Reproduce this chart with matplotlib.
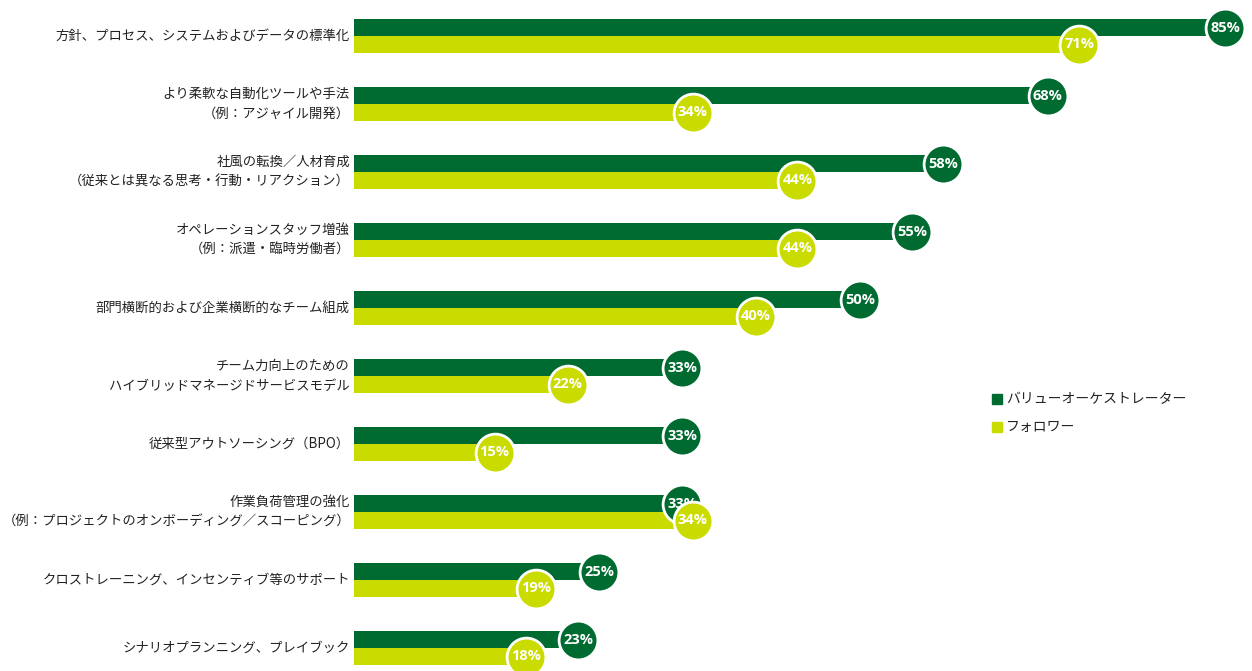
import matplotlib.pyplot as plt
import matplotlib.transforms as mtransforms
import numpy as np

plt.rcParams['font.family'] = ['Noto Sans CJK JP', 'DejaVu Sans']

categories = [
    "方針、プロセス、システムおよびデータの標準化",
    "より柔軟な自動化ツールや手法\n（例：アジャイル開発）",
    "社風の転換／人材育成\n（従来とは異なる思考・行動・リアクション）",
    "オペレーションスタッフ増強\n（例：派遣・臨時労働者）",
    "部門横断的および企業横断的なチーム組成",
    "チーム力向上のための\nハイブリッドマネージドサービスモデル",
    "従来型アウトソーシング（BPO）",
    "作業負荷管理の強化\n（例：プロジェクトのオンボーディング／スコーピング）",
    "クロストレーニング、インセンティブ等のサポート",
    "シナリオプランニング、プレイブック",
]
orchestrators = [85, 68, 58, 55, 50, 33, 33, 33, 25, 23]
followers = [71, 34, 44, 44, 40, 22, 15, 34, 19, 18]
series_names = ["バリューオーケストレーター", "フォロワー"]

GREEN = "#006B30"
LIME = "#CADB00"
TEXT = "#222222"

fig = plt.figure(figsize=(12.52, 6.71), dpi=100)
ax = fig.add_axes([354 / 1252, 0, 898 / 1252, 1])

y = np.arange(len(categories))
h = 0.25
ax.barh(y - h / 2, orchestrators, height=h, color=GREEN, zorder=2)
ax.barh(y + h / 2, followers, height=h, color=LIME, zorder=2)

ax.set_xlim(3.26, 3.26 + 898 / 10.44)
ax.set_ylim(9 + 23 / 68, -36 / 68)
ax.axis("off")

# value bubbles sit just past the end of each bar
shift = ax.transData + mtransforms.ScaledTranslation(0.18, 0, fig.dpi_scale_trans)
for vals, yy, col, z in [(orchestrators, y - h / 2, GREEN, 4), (followers, y + h / 2, LIME, 6)]:
    ax.scatter(vals, yy, s=780, color=col, edgecolors="white", linewidths=2,
               transform=shift, zorder=z, clip_on=False)
    for v, yv in zip(vals, yy):
        ax.annotate(f"{v}%", (v, yv), xytext=(18, 0), textcoords="offset pixels",
                    ha="center", va="center", color="white", fontsize=10.5,
                    fontweight="bold", family=["Open Sans", "DejaVu Sans"],
                    zorder=z + 1, annotation_clip=False)

for yi, label in zip(y, categories):
    ax.annotate(label, (3.26, yi), xytext=(-4, 0), textcoords="offset pixels",
                ha="right", va="center", fontsize=9.6, color=TEXT,
                linespacing=1.5, annotation_clip=False)

# legend drawn as square markers with text
for ly, name, col in [(399, series_names[0], GREEN), (427, series_names[1], LIME)]:
    fig.patches.append(plt.Rectangle((992 / 1252, 1 - (ly + 5) / 671), 10 / 1252, 10 / 671,
                                     color=col, transform=fig.transFigure))
    fig.text(1006 / 1252, 1 - ly / 671, name, ha="left", va="center",
             fontsize=10, color=TEXT)

fig.savefig("out.png", dpi=100)
